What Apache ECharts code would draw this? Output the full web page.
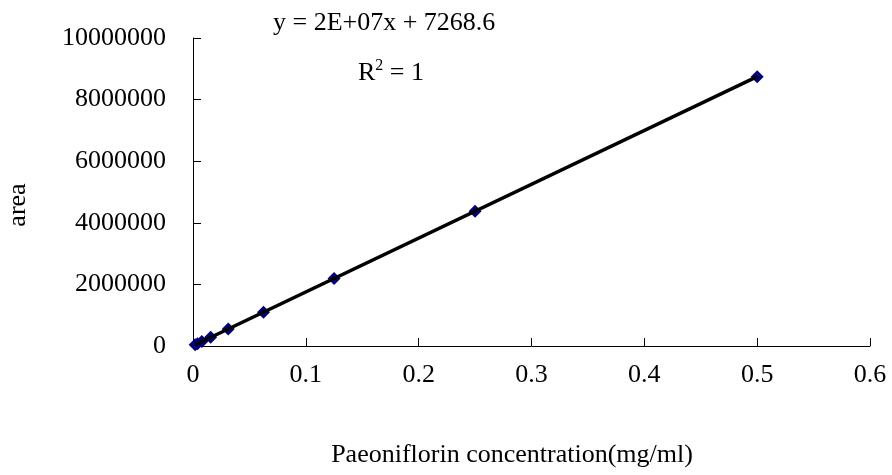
<!DOCTYPE html>
<html>
<head>
<meta charset="utf-8">
<script src="https://cdn.jsdelivr.net/npm/echarts@6/dist/echarts.min.js"></script>
<style>
  html, body { margin: 0; padding: 0; background: #fff; }
  #chart { width: 892px; height: 475px; }
</style>
</head>
<body>
<div id="chart"></div>
<script>
// Calibration standards: concentration (mg/ml) and peak area
const concentrations = [0.001953125, 0.00390625, 0.0078125, 0.015625, 0.03125, 0.0625, 0.125, 0.25, 0.5];
const areas = [41000, 75000, 143000, 281000, 553000, 1098000, 2190000, 4378000, 8745000];

// Linear trendline coefficients
const slope = 17480000;
const intercept = 7268.6;

const xTicks = [0, 0.1, 0.2, 0.3, 0.4, 0.5, 0.6];
const yTicks = [0, 2000000, 4000000, 6000000, 8000000, 10000000];

const FONT = '"Liberation Serif", "DejaVu Serif", serif';

const points = concentrations.map((c, i) => [c, areas[i]]);
const xMin = Math.min(...concentrations);
const xMax = Math.max(...concentrations);
const trend = [xMin, xMax].map(x => [x, slope * x + intercept]);

const chart = echarts.init(document.getElementById('chart'), null, { renderer: 'canvas' });
chart.setOption({
  backgroundColor: '#ffffff',
  animation: false,
  grid: { left: 193, right: 22, top: 38, bottom: 129, containLabel: false },
  xAxis: {
    type: 'value',
    min: xTicks[0],
    max: xTicks[xTicks.length - 1],
    interval: 0.1,
    axisLine: { lineStyle: { color: '#000', width: 1 } },
    axisTick: { inside: true, length: 8, lineStyle: { color: '#000' } },
    splitLine: { show: false },
    axisLabel: {
      color: '#000', fontFamily: FONT, fontSize: 26, margin: 16,
      formatter: v => String(+v.toFixed(1))
    }
  },
  yAxis: {
    type: 'value',
    min: yTicks[0],
    max: yTicks[yTicks.length - 1],
    interval: 2000000,
    axisLine: { show: true, lineStyle: { color: '#000', width: 1 } },
    axisTick: { show: true, inside: true, length: 8, lineStyle: { color: '#000' } },
    splitLine: { show: false },
    axisLabel: {
      color: '#000', fontFamily: FONT, fontSize: 26, margin: 27,
      formatter: v => String(v)
    }
  },
  series: [
    {
      type: 'scatter',
      data: points,
      symbol: 'diamond',
      symbolSize: 13,
      itemStyle: { color: '#000080', opacity: 1 },
      z: 2
    },
    {
      type: 'line',
      data: trend,
      symbol: 'none',
      lineStyle: { color: '#000', width: 3.5 },
      z: 3
    }
  ],
  graphic: [
    {
      type: 'text', left: 273, top: 10,
      style: { text: 'y = 2E+07x + 7268.6', font: '26px ' + FONT, fill: '#000' }
    },
    {
      type: 'text', left: 358, top: 58,
      style: {
        text: '{b|R}{s|2}{b| = 1}',
        fill: '#000',
        rich: {
          b: { fontFamily: FONT, fontSize: 26, fill: '#000', verticalAlign: 'bottom' },
          s: { fontFamily: FONT, fontSize: 16, fill: '#000', verticalAlign: 'top', padding: [0, 0, 12, 0] }
        }
      }
    },
    {
      type: 'text', x: 512, y: 455,
      style: {
        text: 'Paeoniflorin concentration(mg/ml)', font: '26px ' + FONT, fill: '#000',
        align: 'center', verticalAlign: 'middle'
      }
    },
    {
      type: 'text', x: 18, y: 205, rotation: Math.PI / 2,
      style: { text: 'area', font: '26px ' + FONT, fill: '#000', align: 'center', verticalAlign: 'middle' }
    }
  ]
});
</script>
</body>
</html>
